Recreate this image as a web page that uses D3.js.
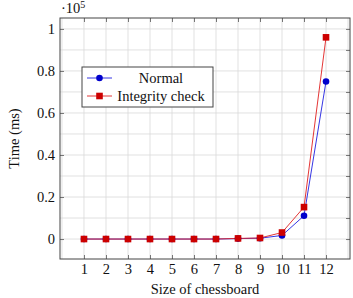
<!DOCTYPE html>
<html>
<head>
<meta charset="UTF-8">
<title>Chessboard timing</title>
<style>
  body { margin: 0; background: #fff; }
  text { font-family: "Liberation Serif", "DejaVu Serif", serif; fill: #111; }
</style>
</head>
<body>
<script src="https://d3js.org/d3.v7.min.js"></script>
<script>
// data
var sizes = [1, 2, 3, 4, 5, 6, 7, 8, 9, 10, 11, 12]
var normal = [0, 0, 0, 0, 0, 0, 0, 200, 400, 1700, 11100, 75000]
var integrity = [0, 0, 0, 0, 0, 0, 0, 300, 500, 3100, 15200, 96000]
var yTicks = [0, 0.2, 0.4, 0.6, 0.8, 1]
var yTickLabels = ["0", "0.2", "0.4", "0.6", "0.8", "1"]

var width = 353
var height = 298
var margin = { top: 18, right: 3, bottom: 39, left: 60 }
var fs = "14.5px"

var svg = d3.select("body").append("svg")
    .attr("width", width)
    .attr("height", height)

var x = d3.scaleLinear().domain([-0.09, 13.09]).range([margin.left, width - margin.right])
var y = d3.scaleLinear().domain([-0.095, 1.052]).range([height - margin.bottom, margin.top])

var x0 = x.range()[0], x1 = x.range()[1]
var y0 = y.range()[0], y1 = y.range()[1]

// grid
var gridX = d3.range(0, 14)
var gridY = d3.range(-0.1, 1.06, 0.1).map(function(d) { return Math.round(d * 10) / 10 }).filter(function(d) { return d >= -0.09 })
svg.append("g").selectAll("line").data(gridX).enter().append("line")
    .attr("x1", function(d) { return x(d) }).attr("x2", function(d) { return x(d) })
    .attr("y1", y0).attr("y2", y1)
    .attr("stroke", "#d9d9d9").attr("stroke-width", 0.8)
svg.append("g").selectAll("line").data(gridY).enter().append("line")
    .attr("y1", function(d) { return y(d) }).attr("y2", function(d) { return y(d) })
    .attr("x1", x0).attr("x2", x1)
    .attr("stroke", "#d9d9d9").attr("stroke-width", 0.8)

// axes (ticks inside, on both sides)
var bottomAxis = d3.axisBottom(x).tickValues(sizes).tickSize(-4).tickPadding(5)
var topAxis = d3.axisTop(x).tickValues(sizes).tickSize(-4).tickFormat("")
var leftAxis = d3.axisLeft(y).tickValues(yTicks).tickSize(-4).tickPadding(5)
    .tickFormat(function(d, i) { return yTickLabels[i] })
var rightAxis = d3.axisRight(y).tickValues(gridY.filter(function(d) { return d >= 0 })).tickSize(-4).tickFormat("")

function styleAxis(g) {
  g.select(".domain").remove()
  g.selectAll("line").attr("stroke", "#555").attr("stroke-width", 0.8)
  g.selectAll("text").attr("font-size", fs).attr("font-family", "Liberation Serif, DejaVu Serif, serif").attr("fill", "#111")
}
svg.append("g").attr("transform", "translate(0," + y0 + ")").call(bottomAxis).call(styleAxis)
svg.append("g").attr("transform", "translate(0," + y1 + ")").call(topAxis).call(styleAxis)
svg.append("g").attr("transform", "translate(" + x0 + ",0)").call(leftAxis).call(styleAxis)
svg.append("g").attr("transform", "translate(" + x1 + ",0)").call(rightAxis).call(styleAxis)

// frame
svg.append("rect")
    .attr("x", x0).attr("y", y1)
    .attr("width", x1 - x0).attr("height", y0 - y1)
    .attr("fill", "none").attr("stroke", "#444").attr("stroke-width", 1)

// exponent
var expo = svg.append("text").attr("x", x0 + 1).attr("y", 13).attr("font-size", fs)
expo.append("tspan").text("·10")
expo.append("tspan").attr("dy", -5).attr("font-size", "10px").text("5")

// lines
var line = function(vals) {
  return d3.line()
      .x(function(d, i) { return x(sizes[i]) })
      .y(function(d) { return y(d / 1e5) })(vals)
}
svg.append("path").attr("d", line(normal)).attr("fill", "none").attr("stroke", "#1f1fe0").attr("stroke-width", 0.9)
svg.append("path").attr("d", line(integrity)).attr("fill", "none").attr("stroke", "#e01f1f").attr("stroke-width", 0.9)

svg.append("g").selectAll("circle").data(normal).enter().append("circle")
    .attr("cx", function(d, i) { return x(sizes[i]) })
    .attr("cy", function(d) { return y(d / 1e5) })
    .attr("r", 3.3).attr("fill", "#0000cc")

svg.append("g").selectAll("rect").data(integrity).enter().append("rect")
    .attr("x", function(d, i) { return x(sizes[i]) - 3.3 })
    .attr("y", function(d) { return y(d / 1e5) - 3.3 })
    .attr("width", 6.6).attr("height", 6.6).attr("fill", "#cc0000")

// legend
var legend = svg.append("g")
legend.append("rect").attr("x", 82).attr("y", 67).attr("width", 131).attr("height", 40)
    .attr("fill", "#fff").attr("stroke", "#444").attr("stroke-width", 1)
legend.append("line").attr("x1", 87).attr("x2", 112).attr("y1", 78).attr("y2", 78).attr("stroke", "#1f1fe0").attr("stroke-width", 0.9)
legend.append("circle").attr("cx", 99.5).attr("cy", 78).attr("r", 3.3).attr("fill", "#0000cc")
legend.append("line").attr("x1", 87).attr("x2", 112).attr("y1", 96).attr("y2", 96).attr("stroke", "#e01f1f").attr("stroke-width", 0.9)
legend.append("rect").attr("x", 96.2).attr("y", 92.7).attr("width", 6.6).attr("height", 6.6).attr("fill", "#cc0000")
legend.append("text").attr("x", 161).attr("y", 82.5).attr("text-anchor", "middle").attr("font-size", fs).text("Normal")
legend.append("text").attr("x", 161).attr("y", 100.5).attr("text-anchor", "middle").attr("font-size", fs).text("Integrity check")

// axis titles
svg.append("text").attr("x", (x0 + x1) / 2).attr("y", 294).attr("text-anchor", "middle").attr("font-size", fs).text("Size of chessboard")
svg.append("text").attr("transform", "translate(19," + ((y0 + y1) / 2) + ") rotate(-90)")
    .attr("text-anchor", "middle").attr("font-size", fs).text("Time (ms)")
</script>
</body>
</html>
